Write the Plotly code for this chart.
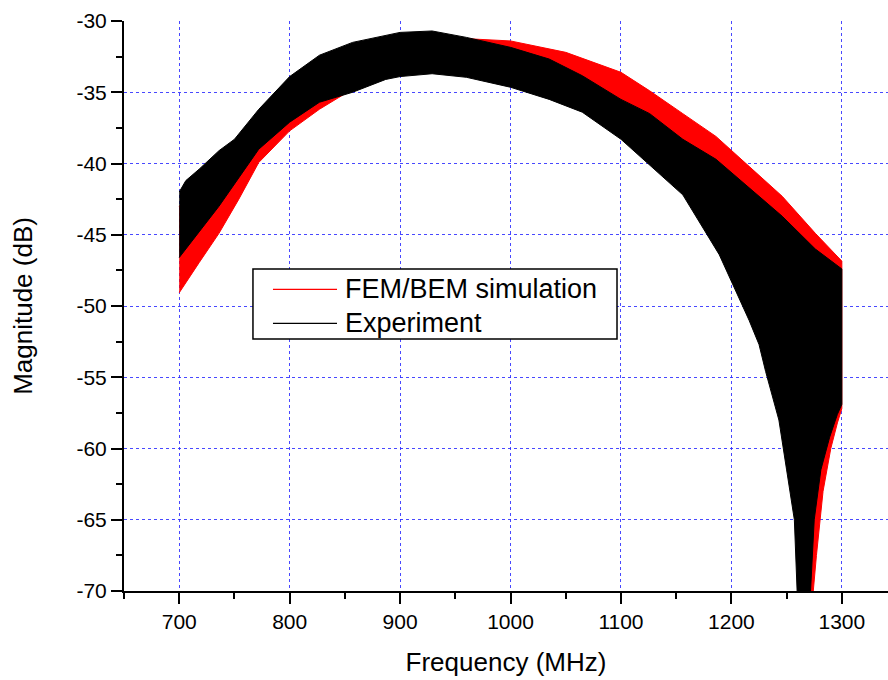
import plotly.graph_objects as go

# ---- data (envelopes of the densely oscillating traces) ----
sim_upper_freq = [700, 750, 800, 850, 900, 950, 1000, 1050, 1100, 1126, 1156, 1186, 1216, 1246, 1276, 1300]
sim_upper_db = [-43.0, -39.0, -35.3, -32.9, -31.6, -31.2, -31.4, -32.2, -33.6, -34.9, -36.5, -38.1, -40.2,
                -42.3, -44.9, -46.85]
sim_lower_freq = [700, 718, 736, 754, 772, 800, 827, 857, 887, 920, 960, 1000, 1050, 1100, 1150, 1200,
                  1230, 1250, 1258, 1262, 1273, 1277, 1283, 1290, 1296, 1300]
sim_lower_db = [-49.07, -46.96, -44.9, -42.5, -39.93, -37.71, -36.19, -34.78, -33.73, -33.0, -32.7, -33.0,
                -34.0, -36.0, -39.0, -43.5, -48.5, -55.0, -63.0, -71.0, -71.0, -67.5, -63.0, -60.0, -58.2,
                -57.2]

exp_upper_freq = [700, 706, 718, 736, 750, 772, 800, 827, 857, 900, 929, 960, 1000, 1035, 1065, 1100, 1126,
                  1156, 1186, 1216, 1246, 1276, 1300]
exp_upper_db = [-42.0, -41.2, -40.4, -39.1, -38.3, -36.2, -33.9, -32.4, -31.5, -30.8, -30.7, -31.15, -31.85,
                -32.67, -33.84, -35.5, -36.5, -38.3, -39.7, -41.7, -43.7, -46.0, -47.4]
exp_lower_freq = [700, 718, 736, 754, 772, 800, 827, 857, 887, 900, 929, 960, 1000, 1035, 1065, 1100, 1120,
                  1156, 1189, 1200, 1216, 1225, 1231, 1243, 1250, 1257, 1260, 1271, 1275, 1281, 1289,
                  1296, 1300]
exp_lower_db = [-46.6, -44.8, -43.0, -41.0, -39.0, -37.1, -35.7, -35.0, -34.1, -33.9, -33.7, -33.95, -34.65,
                -35.5, -36.4, -38.3, -39.7, -42.2, -46.4, -48.3, -51.0, -52.7, -54.6, -58.0, -61.5, -65.0,
                -71.0, -71.0, -65.0, -61.5, -59.2, -57.6, -56.9]

series_names = ["FEM/BEM simulation", "Experiment"]
series_colors = ["#ff0000", "#000000"]

x_ticks = [700, 800, 900, 1000, 1100, 1200, 1300]
y_ticks = [-30, -35, -40, -45, -50, -55, -60, -65, -70]

FONT = "Liberation Sans, Arial, sans-serif"

fig = go.Figure()

bands = [
    (sim_upper_freq, sim_upper_db, sim_lower_freq, sim_lower_db),
    (exp_upper_freq, exp_upper_db, exp_lower_freq, exp_lower_db),
]
for (uf, ud, lf, ld), name, col in zip(bands, series_names, series_colors):
    fig.add_trace(go.Scatter(
        x=list(uf) + list(lf)[::-1],
        y=list(ud) + list(ld)[::-1],
        mode="lines", fill="toself", fillcolor=col,
        line=dict(color=col, width=1),
        name=name, showlegend=False, hoverinfo="skip",
    ))

grid_color = "rgba(40,40,255,0.85)"
fig.update_xaxes(
    range=[650, 1341.8], tickvals=x_ticks, ticktext=[str(v) for v in x_ticks],
    showline=True, linecolor="black", linewidth=2,
    ticks="outside", ticklen=11, tickwidth=2, tickcolor="black",
    tickfont=dict(family=FONT, size=21, color="black"),
    showgrid=True, gridcolor=grid_color, gridwidth=1, griddash="dot",
    minor=dict(dtick=50, tick0=650, ticks="outside", ticklen=6, tickwidth=2, tickcolor="black", showgrid=False),
    zeroline=False,
    title=dict(text="Frequency (MHz)", font=dict(family=FONT, size=26, color="black"), standoff=21),
)
fig.update_yaxes(
    range=[-70, -30], tickvals=y_ticks, ticktext=[str(v) for v in y_ticks],
    showline=True, linecolor="black", linewidth=2,
    ticks="outside", ticklen=11, tickwidth=2, tickcolor="black",
    tickfont=dict(family=FONT, size=21, color="black"),
    showgrid=True, gridcolor=grid_color, gridwidth=1, griddash="dot",
    minor=dict(dtick=2.5, tick0=-70, ticks="outside", ticklen=6, tickwidth=2, tickcolor="black", showgrid=False),
    zeroline=False,
    title=dict(text="Magnitude (dB)", font=dict(family=FONT, size=26, color="black"), standoff=36),
)

# manual legend (box, line samples, labels)
box = dict(x0=0.1688, x1=0.6453, y0=0.4421, y1=0.5649)
fig.add_shape(type="rect", xref="paper", yref="paper", **box,
              line=dict(color="black", width=1.5), fillcolor="white", layer="above")
legend_rows_y = [0.5293, 0.4696]
for name, col, yy in zip(series_names, series_colors, legend_rows_y):
    fig.add_shape(type="line", xref="paper", yref="paper", x0=0.1950, x1=0.2788, y0=yy, y1=yy,
                  line=dict(color=col, width=1.2), layer="above")
    fig.add_annotation(xref="paper", yref="paper", x=0.2870, y=yy, text=name, showarrow=False,
                       xanchor="left", yanchor="middle",
                       font=dict(family=FONT, size=27, color="black"))

fig.update_layout(
    width=888, height=680,
    margin=dict(l=124, r=0, t=21, b=89),
    paper_bgcolor="white", plot_bgcolor="white",
    showlegend=False,
    font=dict(family=FONT, color="black"),
)

fig.write_html("out.html")
